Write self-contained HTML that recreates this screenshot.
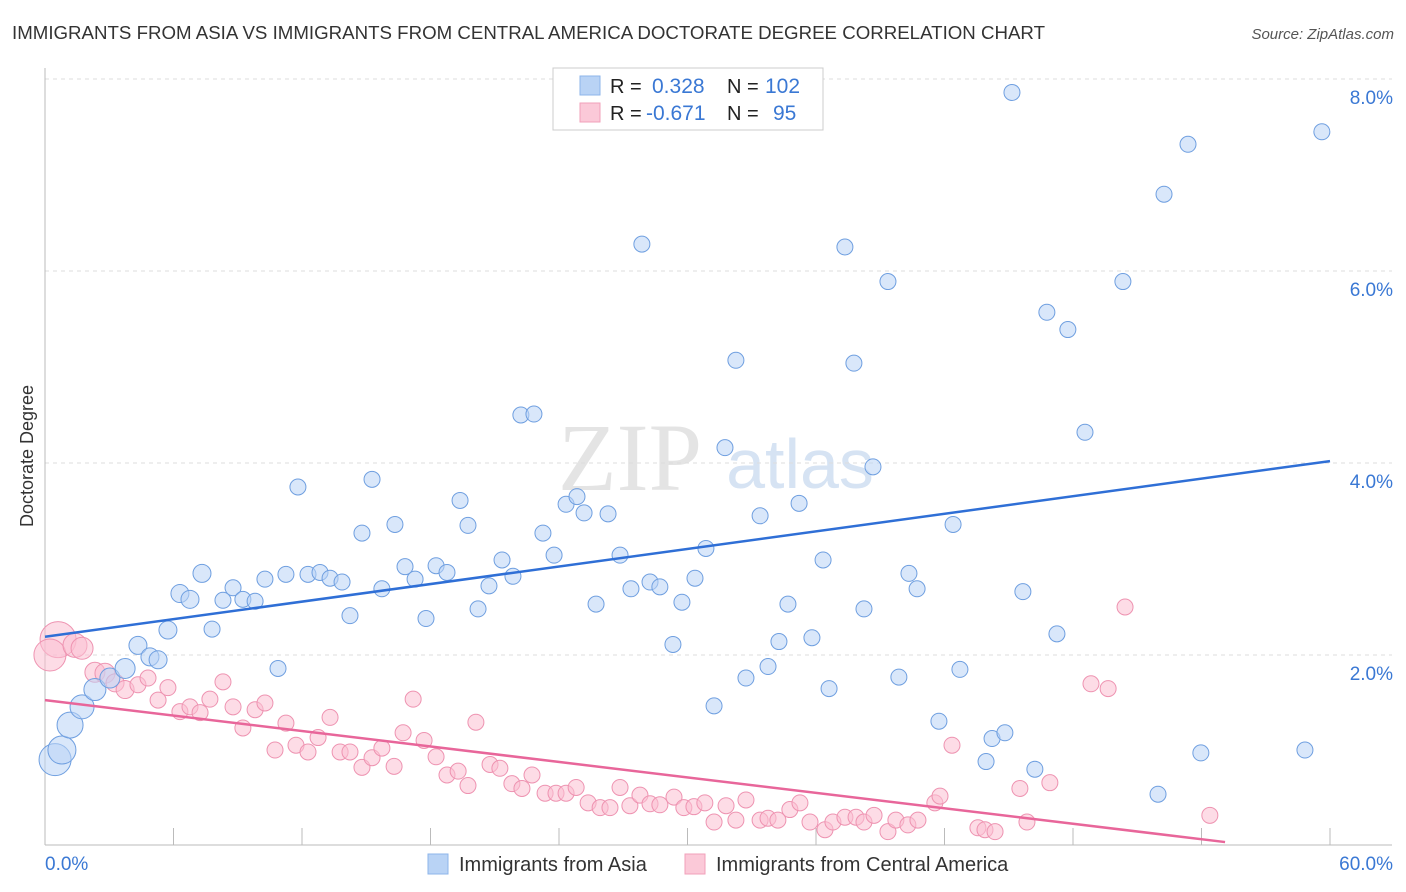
<!DOCTYPE html>
<html><head><meta charset="utf-8"><style>
body{margin:0;background:#fff;font-family:"Liberation Sans",sans-serif;}
svg{display:block}
</style></head><body>
<svg id="chart" width="1406" height="892" xmlns="http://www.w3.org/2000/svg">
<text x="12" y="39" font-size="18" fill="#333" textLength="1033" lengthAdjust="spacingAndGlyphs">IMMIGRANTS FROM ASIA VS IMMIGRANTS FROM CENTRAL AMERICA DOCTORATE DEGREE CORRELATION CHART</text>
<text x="1394" y="39" font-size="15" fill="#555" text-anchor="end" font-style="italic">Source: ZipAtlas.com</text>
<text transform="translate(33,456) rotate(-90)" font-size="18" fill="#333" text-anchor="middle">Doctorate Degree</text>
<g>
<text x="630" y="490" font-size="96" fill="#e4e4e4" font-family="Liberation Serif, serif" text-anchor="middle">ZIP</text>
<text x="800" y="488" font-size="70" fill="#d6e3f3" text-anchor="middle">atlas</text>
</g>
<g id="grid"></g><g id="axes"></g><g id="pinkpts"></g><g id="bluepts"></g><g id="lines"></g>
<g>
<rect x="553" y="68" width="270" height="62" fill="#fff" stroke="#ccc"/>
<rect x="580" y="76" width="20" height="19" fill="#b9d3f5" stroke="#8db4ea"/>
<rect x="580" y="103" width="20" height="19" fill="#fbc9d8" stroke="#f1a0ba"/>
<text x="610" y="93" font-size="20" fill="#222">R =</text><text x="652" y="93" font-size="21" fill="#3a78d4">0.328</text>
<text x="727" y="93" font-size="20" fill="#222">N =</text><text x="765" y="93" font-size="21" fill="#3a78d4">102</text>
<text x="610" y="120" font-size="20" fill="#222">R =</text><text x="646" y="120" font-size="21" fill="#3a78d4">-0.671</text>
<text x="727" y="120" font-size="20" fill="#222">N =</text><text x="773" y="120" font-size="21" fill="#3a78d4">95</text>
</g>
<g>
<rect x="428" y="854" width="20" height="20" fill="#b9d3f5" stroke="#8db4ea"/>
<text x="459" y="871" font-size="20" fill="#333">Immigrants from Asia</text>
<rect x="685" y="854" width="20" height="20" fill="#fbc9d8" stroke="#f1a0ba"/>
<text x="716" y="871" font-size="20" fill="#333">Immigrants from Central America</text>
</g>
</svg>
<script>
const xTicks=[0,6,12,18,24,30,36,42,48,54,60];
const yTicks=[2,4,6,8];
const blueX=[0.47,0.79,1.17,1.73,2.33,3.03,3.74,4.34,4.90,5.28,5.74,6.30,6.77,7.33,7.80,8.31,8.78,9.24,9.81,10.27,10.88,11.25,11.81,12.28,12.84,13.31,13.87,14.24,14.80,15.27,15.73,16.34,16.81,17.28,17.79,18.26,18.77,19.38,19.75,20.22,20.73,21.34,21.85,22.22,22.83,23.25,23.77,24.33,24.84,25.17,25.73,26.29,26.85,27.36,27.87,28.25,28.71,29.32,29.74,30.35,30.86,31.24,31.75,32.26,32.73,33.39,33.76,34.27,34.69,35.21,35.81,36.33,36.61,37.35,37.77,38.24,38.66,39.36,39.87,40.34,40.72,41.74,42.40,42.72,43.94,44.22,44.82,45.15,45.66,46.22,46.78,47.25,47.76,48.56,50.33,51.97,52.25,53.37,53.97,58.83,59.62];
const blueY=[0.91,1.01,1.27,1.46,1.64,1.76,1.86,2.10,1.98,1.95,2.26,2.64,2.58,2.85,2.27,2.57,2.70,2.58,2.56,2.79,1.86,2.84,3.75,2.84,2.86,2.80,2.76,2.41,3.27,3.83,2.69,3.36,2.92,2.79,2.38,2.93,2.86,3.61,3.35,2.48,2.72,2.99,2.82,4.50,4.51,3.27,3.04,3.57,3.65,3.48,2.53,3.47,3.04,2.69,6.28,2.76,2.71,2.11,2.55,2.80,3.11,1.47,4.16,5.07,1.76,3.45,1.88,2.14,2.53,3.58,2.18,2.99,1.65,6.25,5.04,2.48,3.96,5.89,1.77,2.85,2.69,1.31,3.36,1.85,0.89,1.13,1.19,7.86,2.66,0.81,5.57,2.22,5.39,4.32,5.89,0.55,6.80,7.32,0.98,1.01,7.45];
const blueW=[16,14,13,12,11,10,10,9,9,9,9,9,9,9];
const pinkX=[0.61,0.23,1.40,1.73,2.33,2.80,3.27,3.74,4.34,4.81,5.28,5.74,6.30,6.77,7.24,7.70,8.31,8.78,9.24,9.81,10.27,10.74,11.25,11.72,12.28,12.75,13.31,13.78,14.24,14.80,15.27,15.73,16.30,16.72,17.19,17.70,18.26,18.77,19.29,19.75,20.12,20.78,21.24,21.80,22.27,22.74,23.35,23.86,24.33,24.80,25.36,25.92,26.38,26.85,27.31,27.78,28.25,28.71,29.37,29.83,30.30,30.81,31.24,31.80,32.26,32.73,33.39,33.76,34.22,34.78,35.25,35.72,36.42,36.79,37.35,37.87,38.24,38.71,39.36,39.73,40.29,40.76,41.55,41.79,42.35,43.56,43.89,44.36,45.52,45.85,46.92,48.84,49.64,50.43,54.39];
const pinkY=[2.16,2.00,2.10,2.07,1.82,1.81,1.71,1.64,1.69,1.76,1.53,1.66,1.41,1.46,1.40,1.54,1.72,1.46,1.24,1.43,1.50,1.01,1.29,1.06,0.99,1.14,1.35,0.99,0.99,0.83,0.93,1.03,0.84,1.19,1.54,1.11,0.94,0.75,0.79,0.64,1.30,0.86,0.82,0.66,0.61,0.75,0.56,0.56,0.56,0.62,0.46,0.41,0.41,0.62,0.43,0.54,0.45,0.44,0.52,0.41,0.42,0.46,0.26,0.43,0.28,0.49,0.28,0.30,0.28,0.39,0.46,0.26,0.18,0.26,0.31,0.31,0.26,0.33,0.16,0.28,0.23,0.28,0.46,0.53,1.06,0.20,0.18,0.16,0.61,0.26,0.67,1.70,1.65,2.50,0.33];
const pinkW=[18,16,12,11,10,10,9,9];
const blueTrend=[2.19,4.02];
const pinkTrend=[1.53,-0.08];

const NS="http://www.w3.org/2000/svg";
const xs=v=>45+v/60*1285;
const ys=v=>847-v*96;
function mk(t,a,p){const e=document.createElementNS(NS,t);for(const k in a)e.setAttribute(k,a[k]);p.appendChild(e);return e;}
const grid=document.getElementById('grid'),axes=document.getElementById('axes');
yTicks.forEach(t=>{
 const l=mk('line',{x1:45,x2:1392,y1:ys(t),y2:ys(t),stroke:'#ddd','stroke-dasharray':'4,4'},grid);
 
 
 const tx=mk('text',{x:1393,y:ys(t)+25,'font-size':19,fill:'#3a78d4','text-anchor':'end'},axes);
 tx.textContent=t.toFixed(1)+'%';
 
 
});
const ax=mk('line',{x1:45,x2:45,y1:68,y2:845,stroke:'#bbb'},axes);


const bx=mk('line',{x1:45,x2:1392,y1:845,y2:845,stroke:'#bbb'},axes);


xTicks.forEach(t=>{
 const l=mk('line',{x1:xs(t),x2:xs(t),y1:828,y2:845,stroke:'#bbb'},axes);
 
 
});
[[0,'0.0%','start',45],[60,'60.0%','end',1393]].forEach(([v,s,a,x])=>{
 const tx=mk('text',{x:x,y:870,'font-size':19,fill:'#3a78d4','text-anchor':a},axes);
 tx.textContent=s;
 
 
});
function pts(X,Y,W,g,fill,stroke,name){
 const G=document.getElementById(g);
 X.forEach((x,i)=>{
  const c=mk('circle',{cx:xs(x),cy:ys(Y[i]),r:W[i]||8,fill:fill,'fill-opacity':0.55,stroke:stroke,'stroke-width':1},G);
  
  
 });
}
pts(pinkX,pinkY,pinkW,'pinkpts','#fbc0d2','#ee93b1','central-america-point');
pts(blueX,blueY,blueW,'bluepts','#b9d3f5','#6f9fe0','asia-point');
const L=document.getElementById('lines');
const b=mk('line',{x1:xs(0),y1:ys(blueTrend[0]),x2:xs(60),y2:ys(blueTrend[1]),stroke:'#2f6fd6','stroke-width':2.5},L);


const pe=55.1;
const p=mk('line',{x1:xs(0),y1:ys(pinkTrend[0]),x2:xs(pe),y2:ys(pinkTrend[0]+(pinkTrend[1]-pinkTrend[0])*pe/60),stroke:'#e8669a','stroke-width':2.5},L);


</script>
</body></html>
